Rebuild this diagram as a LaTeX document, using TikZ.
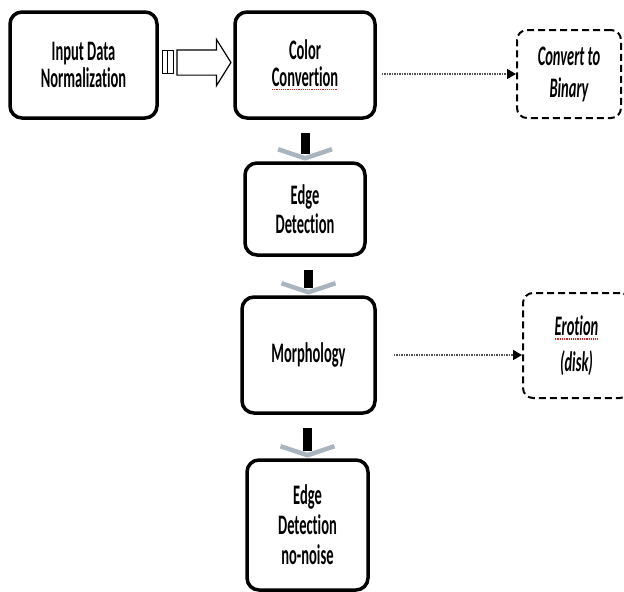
\documentclass[tikz,border=0pt]{standalone}
\usepackage{fontspec}
\setmainfont{Carlito}[Ligatures={NoCommon,NoContextual}]
\usepackage{graphicx}
\usetikzlibrary{arrows.meta,shapes.arrows,calc}

\definecolor{chevgray}{RGB}{170,180,190}
\definecolor{dotgray}{RGB}{80,80,80}
\definecolor{spellred}{RGB}{230,30,30}

\newsavebox{\squigbox}
\newcommand{\tallstack}[2][15bp]{\scalebox{1}[1.95]{\fontsize{14.5bp}{#1}\selectfont\vbox{\lineskiplimit=-20bp\halign{\hfil##\hfil\cr#2\crcr}}}}
\newcommand{\redsquig}[1]{\sbox{\squigbox}{#1}\rlap{\lower2.2bp\hbox to \wd\squigbox{\color{spellred}\xleaders\hbox{\rule{1bp}{0.7bp}\kern0.8bp}\hfil}}\usebox{\squigbox}}
\newcommand{\flowdown}[2]{%
  \draw [chevron] ($(#2.north)+(-27bp,12bp)$) -- ($(#2.north)+(0bp,3bp)$) -- ($(#2.north)+(27bp,12bp)$);
  \draw [downbar] ($(#1.south -| #2.north)+(0bp,-13bp)$) -- ($(#2.north)+(0bp,7bp)$);
}

\begin{document}
\begin{tikzpicture}[
  stepbox/.style={draw,line width=3.5bp,rounded corners=12bp,inner sep=0pt,font=\bfseries},
  notebox/.style={draw,line width=2bp,dash pattern=on 7bp off 4bp,rounded corners=10bp,inner sep=0pt,font=\bfseries\itshape},
  dotlink/.style={densely dotted,line width=1.5bp,dotgray,-{Triangle[length=9bp,width=10bp,black]}},
  hollowarrow/.style={single arrow,draw,line width=1.2bp,inner sep=12bp,single arrow head extend=10.5bp,single arrow tip angle=116,minimum height=54bp},
  chevron/.style={chevgray,line width=4.5bp,line join=round},
  downbar/.style={black,line width=9bp}]

\clip (0bp,0bp) rectangle (624bp,-592bp);

\node (norm) at (83.5bp,-65bp)[stepbox,minimum width=147bp,minimum height=106bp] {\tallstack[13.6bp]{Input Data\cr Normalization}};
\node (color) at (305bp,-65bp)[stepbox,minimum width=140bp,minimum height=106bp] {\tallstack[13.6bp]{Color\cr\redsquig{Convertion}}};
\node (bin) at (569bp,-74bp)[notebox,minimum width=104bp,minimum height=88bp] {\tallstack[16.4bp]{Convert to\cr Binary}};
\node (edge) at (305bp,-209bp)[stepbox,minimum width=120bp,minimum height=92bp] {\tallstack[14.9bp]{Edge\cr Detection}};
\node (morph) at (308.5bp,-355bp)[stepbox,minimum width=133bp,minimum height=116bp] {\tallstack{Morphology}};
\node (ero) at (576.5bp,-345.5bp)[notebox,minimum width=107bp,minimum height=105bp] {\tallstack[18.5bp]{\redsquig{Erotion}\cr(disk)}};
\node (clean) at (307.5bp,-525bp)[stepbox,minimum width=121bp,minimum height=130bp] {\tallstack[15.4bp]{Edge\cr Detection\cr no-noise}};

% hollow push arrow with striped tail
\node (tail) at (167.5bp,-61.5bp)[draw,line width=1bp,minimum width=11bp,minimum height=23bp,inner sep=0pt] {};
\draw [line width=1bp] (tail.north) -- (tail.south);
\node (push) at (200bp,-62.5bp)[hollowarrow] {};

\draw [dotlink,shorten <=5bp] (color.east |- bin.west) -- (bin.west);
\draw [dotlink,shorten <=17bp] (morph.east) -- (morph.east -| ero.west);

\flowdown{color}{edge}
\flowdown{edge}{morph}
\flowdown{morph}{clean}
\end{tikzpicture}
\end{document}
